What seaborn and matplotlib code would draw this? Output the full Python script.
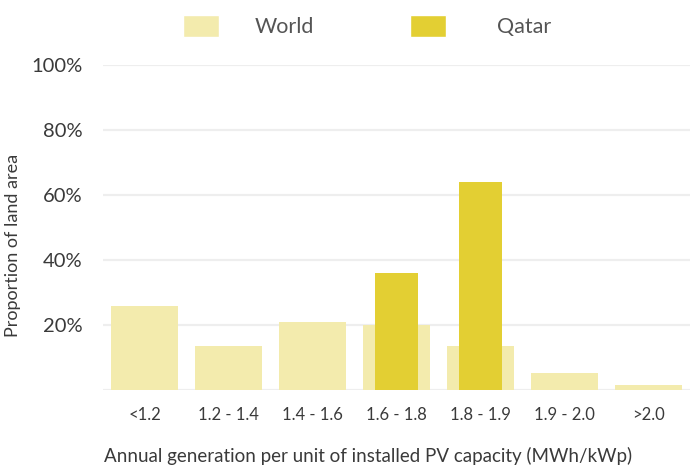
import numpy as np
import pandas as pd
import matplotlib
matplotlib.use("Agg")
import matplotlib.pyplot as plt
import seaborn as sns
from matplotlib.patches import Patch

# data
categories = ["<1.2", "1.2 - 1.4", "1.4 - 1.6", "1.6 - 1.8", "1.8 - 1.9", "1.9 - 2.0", ">2.0"]
world = [25.8, 13.4, 20.9, 19.9, 13.4, 5.3, 1.4]
qatar = [0, 0, 0, 36.0, 64.0, 0, 0]

world_color = "#f3ebad"
qatar_color = "#e3cf33"
text_color = "#3a3a3a"

sns.set_theme(style="white")
plt.rcParams["font.family"] = ["Lato", "DejaVu Sans"]

df_w = pd.DataFrame({"band": categories, "share": world})
df_q = pd.DataFrame({"band": categories, "share": qatar})

fig = plt.figure(figsize=(6.9, 4.66), dpi=100)
ax = fig.add_axes([0.149, 0.163, 0.851, 0.6975])

sns.barplot(data=df_w, x="band", y="share", color=world_color, width=0.8,
            saturation=1, linewidth=0, ax=ax, zorder=2)
sns.barplot(data=df_q, x="band", y="share", color=qatar_color, width=0.51,
            saturation=1, linewidth=0, ax=ax, zorder=3)

ax.set_ylim(0, 100)
ax.set_xlim(-0.5, 6.5)
ax.set_yticks([20, 40, 60, 80, 100])
ax.set_yticklabels(["20%", "40%", "60%", "80%", "100%"])
ax.yaxis.grid(True, color="#eeeeee", linewidth=1.6, zorder=0)
ax.axhline(0, color="#eeeeee", linewidth=1.6, zorder=1)
ax.set_axisbelow(True)
for s in ax.spines.values():
    s.set_visible(False)

ax.tick_params(axis="x", length=0, labelsize=12, labelcolor=text_color, pad=12)
ax.tick_params(axis="y", length=0, labelsize=14.5, labelcolor=text_color, pad=14.5)

ax.set_xlabel("Annual generation per unit of installed PV capacity (MWh/kWp)",
              fontsize=13.5, color=text_color)
ax.xaxis.set_label_coords(0.451, -0.175)
ax.set_ylabel("Proportion of land area", fontsize=13, color=text_color)
ax.yaxis.set_label_coords(-0.14, 0.446)

# legend: two single entries so the gaps can differ as in the reference
legend_fs = 15.5
for label, color, x0, gap in [("World", world_color, 0.265, 1.67),
                              ("Qatar", qatar_color, 0.594, 2.37)]:
    fig.legend(handles=[Patch(facecolor=color, label=label)], loc="center left",
               bbox_to_anchor=(x0, 0.944), frameon=False, fontsize=legend_fs,
               borderpad=0, borderaxespad=0, handlelength=1.67, handleheight=1.21,
               handletextpad=gap, labelcolor="#555555")

fig.savefig("out.png", dpi=100)
